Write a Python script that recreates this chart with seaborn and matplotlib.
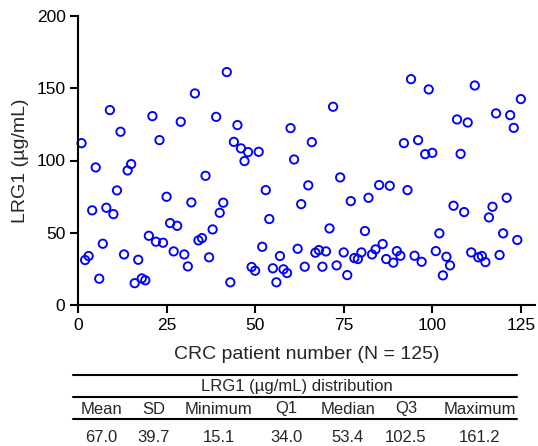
"""
Nuage de points LRG1 par patient CRC, avec tableau de distribution en dessous.
"""

import matplotlib
matplotlib.use("Agg")
import numpy as np
import pandas as pd
import matplotlib.pyplot as plt
import seaborn as sns

# Données
patient = list(range(1, 126))
lrg1 = [
    112.0, 31.1, 33.9, 65.5, 95.2, 18.2, 42.4, 67.3, 134.9, 62.9,
    79.3, 119.9, 35.0, 93.1, 97.5, 15.1, 31.3, 18.4, 17.1, 47.9,
    130.7, 43.8, 114.1, 43.1, 74.9, 56.7, 37.1, 54.8, 126.8, 35.0,
    26.7, 71.0, 146.4, 44.7, 46.3, 89.4, 33.0, 52.3, 130.2, 63.8,
    70.8, 161.2, 15.7, 112.9, 124.5, 108.4, 99.6, 105.8, 26.3, 23.7,
    106.0, 40.3, 79.5, 59.5, 25.4, 15.7, 33.9, 24.7, 22.1, 122.4,
    100.7, 38.9, 69.8, 26.5, 82.8, 112.7, 36.2, 38.0, 26.5, 37.1,
    53.0, 137.2, 27.4, 88.3, 36.4, 20.7, 71.9, 32.5, 31.8, 36.4,
    51.2, 74.2, 35.0, 38.5, 83.0, 42.2, 31.8, 82.5, 29.3, 37.3,
    34.1, 112.0, 79.5, 156.3, 34.1, 114.1, 29.9, 104.4, 149.2, 105.3,
    37.3, 49.6, 20.5, 33.4, 27.4, 68.7, 128.4, 104.6, 64.3, 126.3,
    36.4, 151.9, 33.0, 33.9, 29.7, 60.6, 68.0, 132.6, 34.6, 49.6,
    74.2, 131.4, 122.6, 45.0, 142.5,
]

stat_names = ["Mean", "SD", "Minimum", "Q1", "Median", "Q3", "Maximum"]
stat_values = ["67.0", "39.7", "15.1", "34.0", "53.4", "102.5", "161.2"]
x_ticks = [0, 25, 50, 75, 100, 125]
y_ticks = [0, 50, 100, 150, 200]

df = pd.DataFrame({"patient": patient, "lrg1": lrg1})

sns.set_style("ticks")
plt.rcParams["font.family"] = ["Liberation Sans", "DejaVu Sans"]

W, H = 538, 446
fig = plt.figure(figsize=(W / 100, H / 100), dpi=100)

# Graphique principal
ax = fig.add_axes([78 / W, (H - 305) / H, (535 - 78) / W, (305 - 16) / H])
sns.scatterplot(data=df, x="patient", y="lrg1", ax=ax,
                marker="o", s=36, facecolors="none", edgecolor="#0000ff",
                linewidth=1.35, clip_on=False)
ax.set_xlim(0, 129)
ax.set_ylim(0, 200)
ax.set_xticks(x_ticks)
ax.set_yticks(y_ticks)
ax.tick_params(axis="both", labelsize=12.5, width=1.5, length=5.5,
               color="black", labelcolor="black")
for side in ["left", "bottom"]:
    ax.spines[side].set_linewidth(1.5)
    ax.spines[side].set_color("black")
sns.despine(ax=ax)
ax.set_xlabel("CRC patient number (N = 125)", fontsize=14, labelpad=10)
ax.set_ylabel("LRG1 (µg/mL)", fontsize=14, labelpad=5)

# Tableau de distribution (coordonnées en pixels)
tab = fig.add_axes([0, 0, 1, 1], zorder=-1)
tab.set_xlim(0, W)
tab.set_ylim(H, 0)
tab.axis("off")

for y in [375, 397, 419]:
    tab.plot([73, 517], [y, y], color="black", lw=1.5)

tab.text(297, 387, "LRG1 (µg/mL) distribution", ha="center", va="center",
         fontsize=12)
col_x = [101, 154, 219, 286, 348, 406, 480]
for cx, name, val in zip(col_x, stat_names, stat_values):
    tab.text(cx, 409, name, ha="center", va="center", fontsize=12)
    tab.text(cx, 437, val, ha="center", va="center", fontsize=12)

fig.savefig("out.png", dpi=100)
